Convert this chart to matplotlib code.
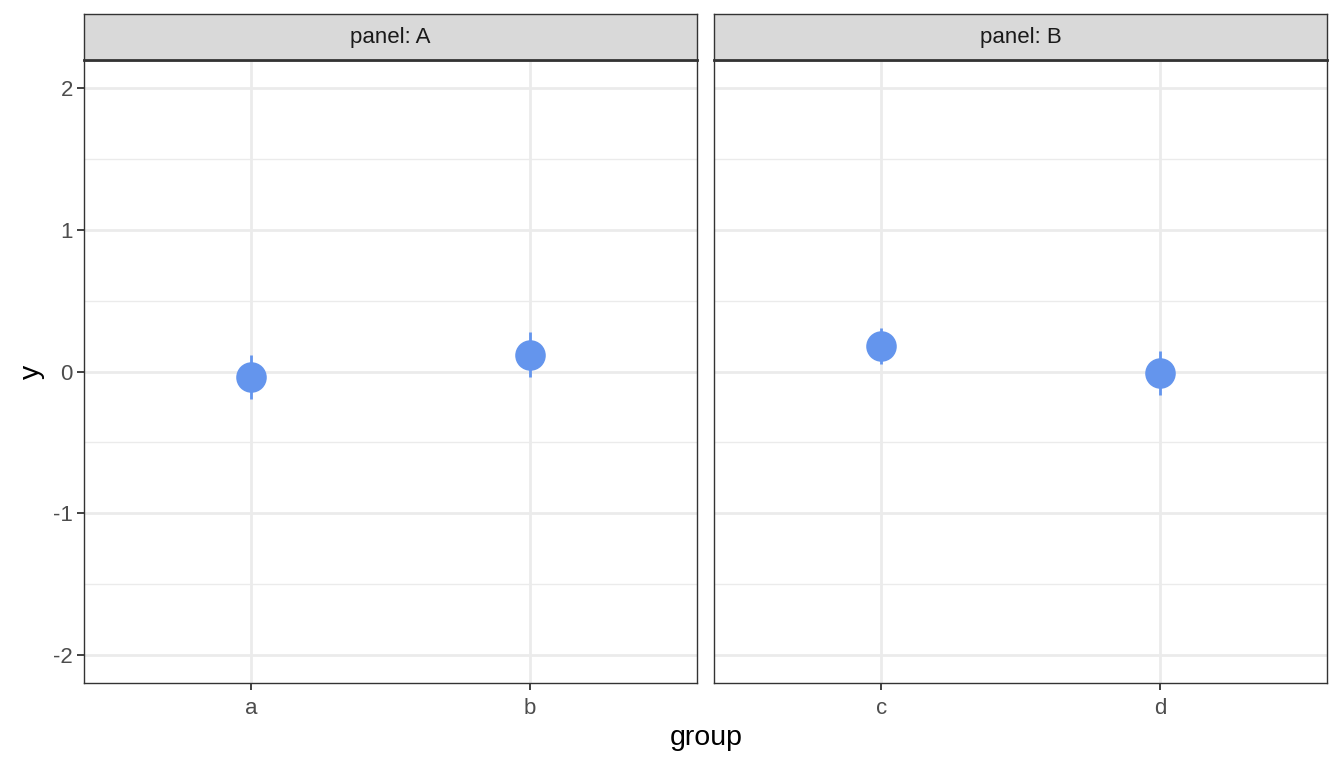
import matplotlib
matplotlib.use("Agg")
import matplotlib.pyplot as plt

plt.rcParams['font.family'] = ['Liberation Sans', 'DejaVu Sans']

# data
panels = ['A', 'B']
groups = [['a', 'b'], ['c', 'd']]
means = [[-0.04, 0.12], [0.18, -0.01]]
errs = [[0.155, 0.16], [0.125, 0.155]]
y_ticks = [-2, -1, 0, 1, 2]
y_minor = [-1.5, -0.5, 0.5, 1.5]

point_col = '#6495ED'
grid_col = '#EBEBEB'
dark = '#333333'

fig = plt.figure(figsize=(13.44, 7.68), dpi=100)

lefts = [84 / 1344, 714 / 1344]
width = 613 / 1344
bottom = 1 - 683 / 768
height = (683 - 60) / 768
strip_h = 46 / 768

for i, p in enumerate(panels):
    ax = fig.add_axes([lefts[i], bottom, width, height])
    x = list(range(1, len(groups[i]) + 1))
    ax.set_xlim(0.4, 2.6)
    ax.set_ylim(-2.2, 2.2)
    for v in y_minor:
        ax.axhline(v, color=grid_col, lw=1, zorder=0)
    for v in y_ticks:
        ax.axhline(v, color=grid_col, lw=2, zorder=0)
    for xv in x:
        ax.axvline(xv, color=grid_col, lw=2, zorder=0)
    ax.errorbar(x, means[i], yerr=errs[i], fmt='none', ecolor=point_col,
                elinewidth=2, capsize=0, zorder=2)
    ax.plot(x, means[i], 'o', color=point_col, ms=22, mec='none', zorder=3)
    ax.set_xticks(x)
    ax.set_xticklabels(groups[i])
    ax.set_yticks(y_ticks)
    if i == 0:
        ax.set_yticklabels([str(t) for t in y_ticks])
    else:
        ax.tick_params(axis='y', left=False, labelleft=False)
    ax.tick_params(axis='both', colors=dark, labelcolor='#4D4D4D',
                   labelsize=16, length=5, width=1.3, pad=3)
    ax.tick_params(axis='x', pad=6)
    for s in ax.spines.values():
        s.set_color(dark)
        s.set_linewidth(1)

    sx = fig.add_axes([lefts[i], 1 - 60 / 768, width, strip_h])
    sx.set_facecolor('#D9D9D9')
    sx.set_xticks([])
    sx.set_yticks([])
    for s in sx.spines.values():
        s.set_color(dark)
        s.set_linewidth(1)
    sx.spines['bottom'].set_linewidth(2)
    sx.text(0.5, 0.5, 'panel: ' + p, ha='center', va='center',
            fontsize=16, color='#1A1A1A', transform=sx.transAxes)

fig.text((84 + 1328) / 2 / 1344, 1 - 738 / 768, 'group', ha='center',
         va='center', fontsize=20.5)
fig.text(32 / 1344, 1 - 372 / 768, 'y', ha='center', va='center',
         rotation=90, fontsize=20.5)

fig.savefig('out.png', dpi=100)
